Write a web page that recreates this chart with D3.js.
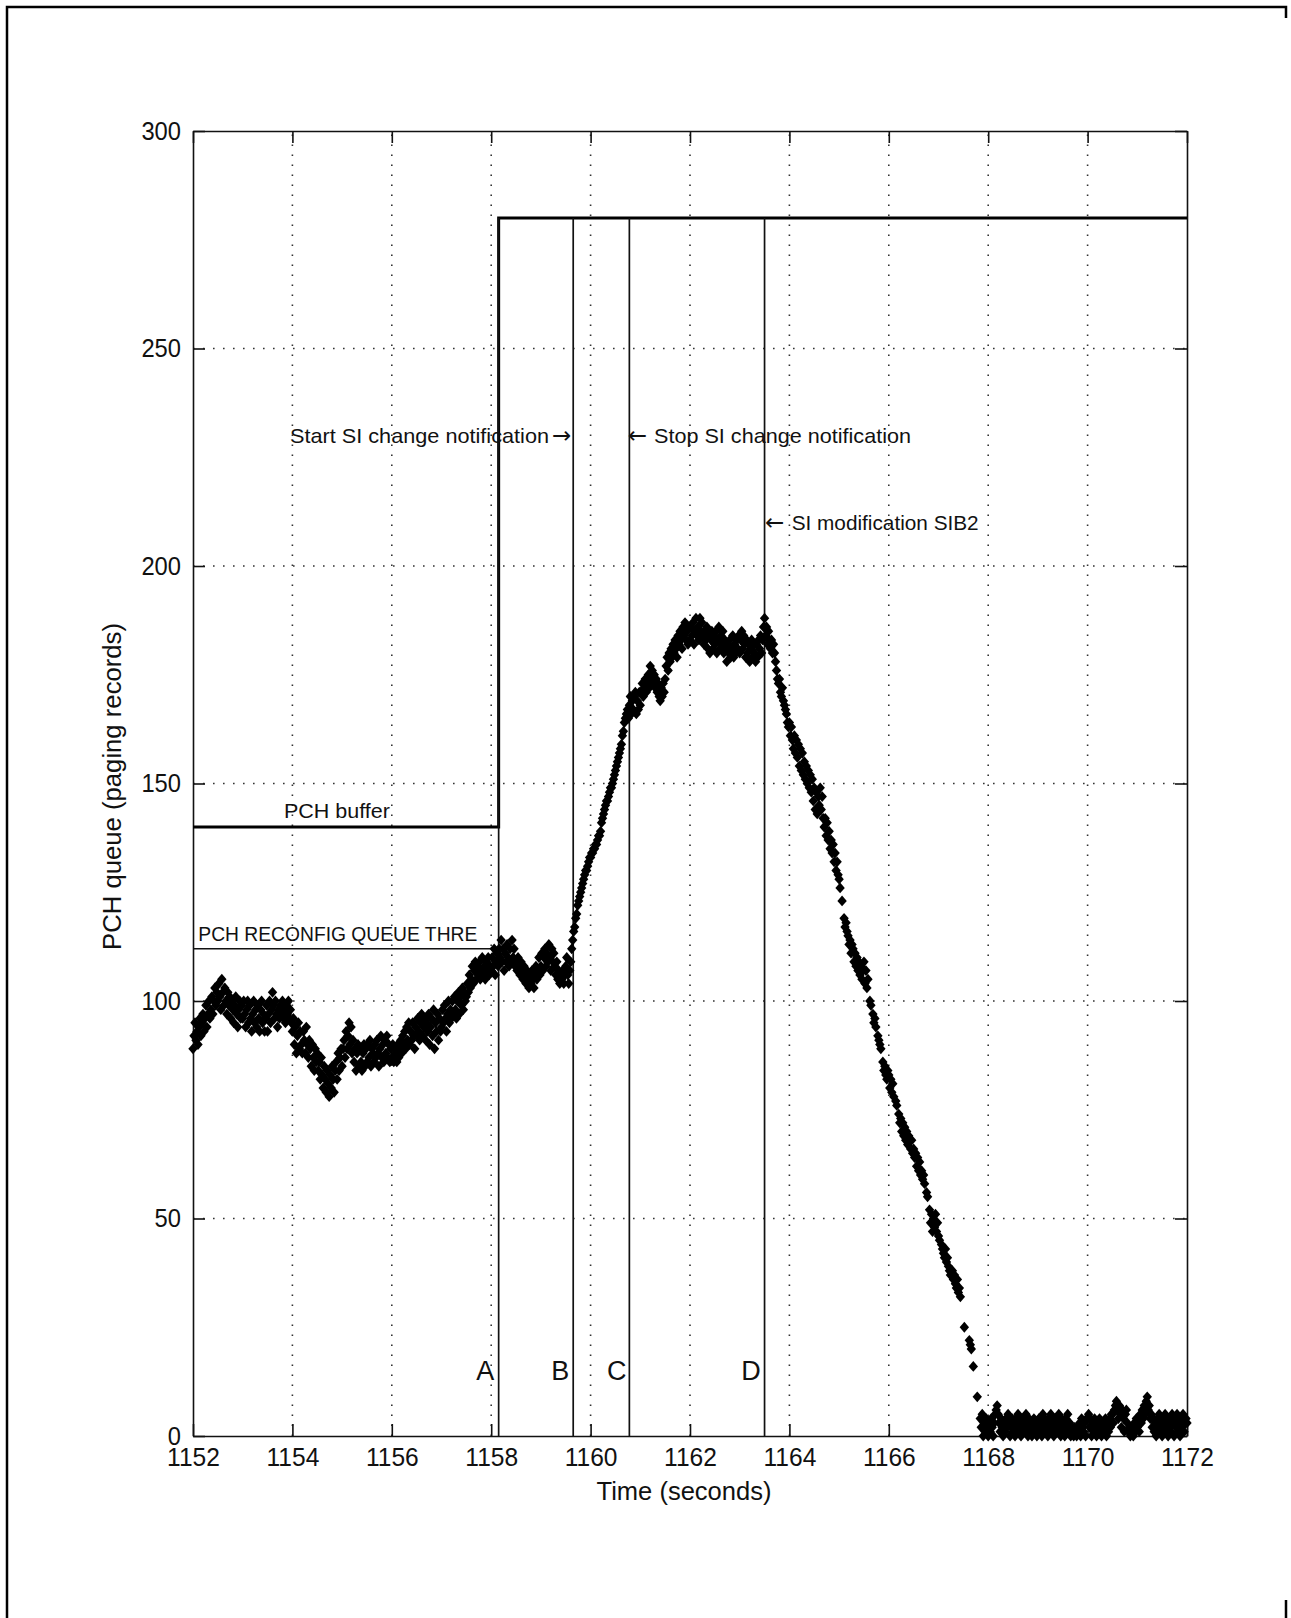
<!DOCTYPE html>
<html>
<head>
<meta charset="utf-8">
<script src="https://cdn.jsdelivr.net/npm/d3@7/dist/d3.min.js"></script>
<style>
  body { margin: 0; background: #fff; }
  svg { display: block; }
  text { font-family: "Liberation Sans", Arial, sans-serif; fill: #111; }
</style>
</head>
<body>
<svg id="chart" width="1291" height="1618"></svg>
<script>
// axis ticks
const xTicks = [1152, 1154, 1156, 1158, 1160, 1162, 1164, 1166, 1168, 1170, 1172];
const yTicks = [0, 50, 100, 150, 200, 250, 300];

// PCH queue samples, one row per half second, 0.02 s apart (null = no sample)
const sampleStart = 1152;
const sampleStep = 0.02;
const q1152a = [89,92,95,91,93,90,94,96,92,95,97,93,96,99,94,97,100,96,98,101,97,100,103,99,102];
const q1152b = [100,104,101,98,105,102,99,103,100,97,102,99,101,96,100,98,95,99,101,97,94,98,100,96,99];
const q1153a = [96,100,97,94,98,100,95,99,96,93,97,100,95,98,94,99,96,93,98,100,95,97,93,96,99];
const q1153b = [93,97,100,95,98,102,99,96,100,97,94,98,96,99,97,100,96,98,95,99,97,100,96,98,95];
const q1154a = [93,96,90,94,88,92,95,89,93,90,88,93,91,88,94,90,87,91,89,85,90,87,84,89,86];
const q1154b = [88,84,86,82,87,83,80,85,82,79,84,81,78,83,80,85,82,79,84,86,82,88,84,87,89];
const q1155a = [85,89,91,87,93,89,92,95,90,94,88,91,86,89,84,88,90,85,89,86,84,88,90,85,89];
const q1155b = [86,90,87,91,85,89,88,86,90,87,91,88,85,89,92,87,90,86,91,88,92,87,90,86,89];
const q1156a = [87,90,86,89,88,86,90,87,89,91,88,92,90,93,89,94,91,95,90,93,91,95,92,89,94];
const q1156b = [92,96,93,91,95,97,92,94,96,91,95,93,97,90,94,96,92,98,89,95,93,97,91,96,93];
const q1157a = [94,98,95,99,96,93,97,100,95,98,96,100,97,101,98,96,100,102,97,101,99,103,98,102,100];
const q1157b = [101,104,102,106,103,105,108,104,107,109,105,108,106,109,105,107,110,106,108,105,109,107,110,106,108];
const q1158a = [107,110,108,112,106,109,111,108,112,110,114,109,112,107,111,109,113,110,108,112,109,114,110,112,108];
const q1158b = [109,107,110,108,106,109,107,105,108,106,104,107,105,103,106,104,107,105,103,106,108,105,107,110,106];
const q1159a = [108,111,107,110,112,108,111,109,113,110,107,112,109,111,108,106,109,105,107,104,106,105,107,104,106];
const q1159b = [108,110,106,104,107,109,112,114,116,117,119,120,122,123,124,125,126,127,128,129,130,130,131,132,133];
const q1160a = [133,134,134,135,135,136,136,137,138,138,139,141,142,143,144,145,146,146,147,148,149,149,150,151,152];
const q1160b = [153,154,155,156,157,158,159,161,162,164,165,166,167,165,168,170,166,169,167,170,171,166,169,167,171];
const q1161a = [168,171,173,170,172,174,171,173,175,172,177,174,176,173,175,172,174,171,173,170,169,172,170,173,171];
const q1161b = [174,177,179,176,180,178,181,179,182,180,183,181,179,184,182,185,183,181,186,184,187,183,185,182,186];
const q1162a = [183,186,184,187,182,185,188,184,186,183,188,185,187,184,182,185,183,186,181,184,180,183,185,181,184];
const q1162b = [182,185,180,183,186,181,184,182,185,180,183,181,178,182,180,183,179,181,184,179,182,180,183,181,184];
const q1163a = [180,183,185,181,184,182,179,183,180,182,178,181,183,179,182,180,178,182,179,183,181,184,180,183,186];
const q1163b = [188,184,186,182,185,183,181,183,180,182,180,178,176,174,173,174,171,170,172,169,168,167,166,164,163];
const q1164a = [164,161,163,160,158,161,157,160,156,159,154,158,153,157,152,155,151,154,150,153,149,152,148,151,146];
const q1164b = [149,144,148,143,147,145,149,144,147,142,140,142,138,141,137,139,135,137,134,136,132,134,130,132,129];
const q1165a = [128,126,null,123,null,119,117,118,116,115,113,114,111,113,112,109,111,108,110,107,109,106,108,105,107];
const q1165b = [109,104,107,103,105,null,100,99,null,97,95,96,94,null,92,91,90,89,null,86,84,85,83,82,84];
const q1166a = [83,80,82,79,81,78,null,77,76,null,74,72,73,70,72,69,71,68,70,67,69,68,66,68,65];
const q1166b = [66,64,65,62,64,61,63,60,61,59,60,58,null,56,55,null,52,49,51,47,50,48,51,47,49];
const q1167a = [46,45,null,44,43,42,41,43,40,41,39,38,37,null,38,36,37,35,34,36,33,34,32,null,null];
const q1167b = [null,25,null,null,null,null,22,21,20,null,16,null,null,null,9,null,null,4,2,5,0,3,1,4,2];
const q1168a = [0,3,1,4,2,0,3,5,6,7,5,3,1,4,2,0,3,1,4,2,5,3,0,2,4];
const q1168b = [1,3,0,4,2,5,1,3,0,4,2,1,3,5,2,0,4,1,3,0,2,4,1,3,0];
const q1169a = [2,4,1,3,0,5,2,4,1,3,0,4,2,5,1,3,0,4,2,1,3,5,2,0,4];
const q1169b = [1,3,0,4,2,5,1,3,0,2,1,0,2,1,0,2,1,3,0,4,2,1,3,0,4];
const q1170a = [4,5,2,4,0,3,1,4,2,0,3,1,4,2,0,3,1,2,4,0,3,1,4,2,5];
const q1170b = [5,3,6,7,8,6,4,7,5,2,6,4,1,5,6,3,1,2,0,1,2,0,3,1,4];
const q1171a = [2,4,1,5,3,6,4,7,5,8,9,6,7,4,5,2,4,1,3,0,4,2,5,1,3];
const q1171b = [0,4,2,5,1,3,0,4,2,1,5,3,0,4,2,5,1,3,0,4,2,5,1,3,4];
const q1172 = [3];

// PCH buffer size (step) and reconfig threshold
const bufferTimes = [1152, 1158.15, 1158.15, 1172];
const bufferLevels = [140, 140, 280, 280];
const thresholdTimes = [1152, 1158.15];
const thresholdLevel = 112;

// event markers A-D
const eventNames = ["A", "B", "C", "D"];
const eventTimes = [1158.15, 1159.65, 1160.78, 1163.5];
const eventLabelTimes = [1157.7, 1159.21, 1160.33, 1163.03];
const eventLabelLevel = 15;

// text notes and their arrows
const noteTexts = ["Start SI change notification", "Stop SI change notification",
    "SI modification SIB2", "PCH buffer", "PCH RECONFIG QUEUE THRE"];
const noteTimes = [1159.163, 1161.276, 1164.046, 1153.83, 1152.107];
const noteLevels = [230, 230, 210, 143.7, 115.5];
const noteAnchors = ["end", "start", "start", "start", "start"];
const noteWidths = [259, 257, 187, 106, 279];

const arrowGlyphs = ["\u2192", "\u2190", "\u2190"];
const arrowTimes = [1159.61, 1160.745, 1163.51];
const arrowLevels = [230, 230, 210];
const arrowAnchors = ["end", "start", "start"];

const width = 1291, height = 1618;
const plot = { left: 193, right: 1187, top: 131, bottom: 1436 };
const ink = "#111";

const svg = d3.select("#chart");

// outer figure frame
svg.append("path")
    .attr("d", `M7,${height + 5}V7H1286V18M1286,1600V${height + 5}`)
    .attr("fill", "none")
    .attr("stroke", "#000")
    .attr("stroke-width", 2.5);

const x = d3.scaleLinear().domain([1152, 1172]).range([plot.left, plot.right]);
const y = d3.scaleLinear().domain([0, 300]).range([plot.bottom, plot.top]);

// dotted grid
const grid = svg.append("g")
    .attr("stroke", "#333")
    .attr("stroke-width", 1.6)
    .attr("stroke-dasharray", "1.6,8.4");

grid.selectAll("line.gx")
    .data(xTicks.slice(1, -1))
    .join("line")
    .attr("class", "gx")
    .attr("x1", d => x(d)).attr("x2", d => x(d))
    .attr("y1", plot.bottom).attr("y2", plot.top);

grid.selectAll("line.gy")
    .data(yTicks.slice(1, -1))
    .join("line")
    .attr("class", "gy")
    .attr("x1", plot.left).attr("x2", plot.right)
    .attr("y1", d => y(d)).attr("y2", d => y(d));

// axes with inward ticks on all four sides
const tickLen = 12;
function styleAxis(g) {
    g.selectAll("path.domain").attr("stroke", ink).attr("stroke-width", 1.6);
    g.selectAll(".tick line").attr("stroke", ink).attr("stroke-width", 1.6);
    g.selectAll(".tick text")
        .attr("fill", ink)
        .style("font-size", "26px")
        .attr("textLength", function () { return this.textContent.length * 13.2; })
        .attr("lengthAdjust", "spacingAndGlyphs");
}

svg.append("g")
    .attr("transform", `translate(0,${plot.bottom})`)
    .call(d3.axisBottom(x).tickValues(xTicks).tickFormat(d3.format("d"))
        .tickSizeInner(-tickLen).tickSizeOuter(0).tickPadding(12))
    .call(styleAxis);

svg.append("g")
    .attr("transform", `translate(${plot.left},0)`)
    .call(d3.axisLeft(y).tickValues(yTicks).tickFormat(d3.format("d"))
        .tickSizeInner(-tickLen).tickSizeOuter(0).tickPadding(12))
    .call(styleAxis);

svg.append("g")
    .attr("transform", `translate(0,${plot.top})`)
    .call(d3.axisTop(x).tickValues(xTicks).tickFormat("")
        .tickSizeInner(-tickLen).tickSizeOuter(0))
    .call(styleAxis);

svg.append("g")
    .attr("transform", `translate(${plot.right},0)`)
    .call(d3.axisRight(y).tickValues(yTicks).tickFormat("")
        .tickSizeInner(-tickLen).tickSizeOuter(0))
    .call(styleAxis);

// buffer and threshold lines
const line = d3.line().x(d => x(d[0])).y(d => y(d[1]));

svg.append("path")
    .attr("d", line(d3.zip(bufferTimes, bufferLevels)))
    .attr("fill", "none")
    .attr("stroke", "#000")
    .attr("stroke-width", 3);

svg.append("path")
    .attr("d", line(thresholdTimes.map(t => [t, thresholdLevel])))
    .attr("fill", "none")
    .attr("stroke", ink)
    .attr("stroke-width", 1.5);

// event lines from 0 up to the buffer level
svg.selectAll("line.event")
    .data(eventTimes)
    .join("line")
    .attr("class", "event")
    .attr("x1", d => x(d)).attr("x2", d => x(d))
    .attr("y1", y(0)).attr("y2", y(280))
    .attr("stroke", ink)
    .attr("stroke-width", 1.7);

svg.selectAll("text.event")
    .data(eventNames)
    .join("text")
    .attr("class", "event")
    .attr("x", (d, i) => x(eventLabelTimes[i]))
    .attr("y", y(eventLabelLevel))
    .attr("dy", "0.36em")
    .style("font-size", "27px")
    .text(d => d);

// queue samples as filled diamonds
const series = [].concat(
    q1152a, q1152b, q1153a, q1153b, q1154a, q1154b, q1155a, q1155b, q1156a, q1156b,
    q1157a, q1157b, q1158a, q1158b, q1159a, q1159b, q1160a, q1160b, q1161a, q1161b,
    q1162a, q1162b, q1163a, q1163b, q1164a, q1164b, q1165a, q1165b, q1166a, q1166b,
    q1167a, q1167b, q1168a, q1168b, q1169a, q1169b, q1170a, q1170b, q1171a, q1171b, q1172);
const samples = series
    .map((v, i) => ({ t: sampleStart + i * sampleStep, v: v }))
    .filter(d => d.v !== null);

const mw = 4.7, mh = 5.4;
svg.append("g")
    .selectAll("path")
    .data(samples)
    .join("path")
    .attr("d", `M0,${-mh}L${mw},0L0,${mh}L${-mw},0Z`)
    .attr("transform", d => `translate(${x(d.t)},${y(d.v)})`)
    .attr("fill", "#000");

// notes
svg.selectAll("text.note")
    .data(noteTexts)
    .join("text")
    .attr("class", "note")
    .attr("x", (d, i) => x(noteTimes[i]))
    .attr("y", (d, i) => y(noteLevels[i]))
    .attr("dy", "0.36em")
    .attr("text-anchor", (d, i) => noteAnchors[i])
    .attr("textLength", (d, i) => noteWidths[i])
    .attr("lengthAdjust", "spacingAndGlyphs")
    .style("font-size", "21px")
    .text(d => d);

svg.selectAll("text.arrow")
    .data(arrowGlyphs)
    .join("text")
    .attr("class", "arrow")
    .attr("x", (d, i) => x(arrowTimes[i]))
    .attr("y", (d, i) => y(arrowLevels[i]))
    .attr("dy", "0.33em")
    .attr("text-anchor", (d, i) => arrowAnchors[i])
    .style("font-family", "'DejaVu Sans', sans-serif")
    .style("font-size", "23px")
    .text(d => d);

// axis titles
svg.append("text")
    .attr("x", (plot.left + plot.right) / 2 - 6)
    .attr("y", 1500)
    .attr("text-anchor", "middle")
    .attr("textLength", 175)
    .attr("lengthAdjust", "spacingAndGlyphs")
    .style("font-size", "25px")
    .text("Time (seconds)");

svg.append("text")
    .attr("transform", `translate(121,${(plot.top + plot.bottom) / 2 + 3}) rotate(-90)`)
    .attr("text-anchor", "middle")
    .attr("textLength", 327)
    .attr("lengthAdjust", "spacingAndGlyphs")
    .style("font-size", "25px")
    .text("PCH queue (paging records)");
</script>
</body>
</html>
